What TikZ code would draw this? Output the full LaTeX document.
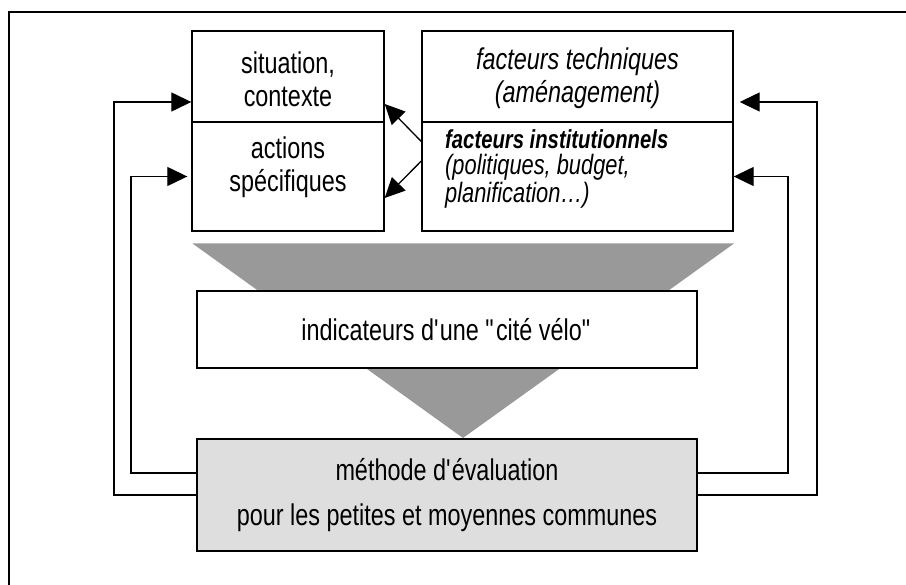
\documentclass[tikz,border=0pt]{standalone}
\usepackage{fontspec}
\setmainfont{Liberation Sans}[FakeStretch=0.78]
\usetikzlibrary{arrows.meta}

\begin{document}
\begin{tikzpicture}[x=1pt, y=-1pt]
	\tikzset{bx/.style={draw=black, line width=1.4pt, inner sep=0pt}};
	\tikzset{txt/.style={align=center, inner sep=0pt, font=\fontsize{30}{33}\selectfont}};
	\tikzset{arr/.style={draw=black, line width=1.3pt, -{Triangle[length=20pt, width=19pt]}}};

	\useasboundingbox (0,0) rectangle (906,585);
	\draw[line width=1.4pt] (9,585) |- (906,12);

	% funnel
	\fill[black!40] (192.5,243.5) -- (734,243.5) -- (463,438) -- cycle;

	\node[bx, minimum width=192, minimum height=91] (sitbox) at (288,76.5) {};
	\node[bx, minimum width=192, minimum height=109] (actbox) at (288,176.5) {};
	\node[bx, minimum width=311, minimum height=91] (techbox) at (577.5,76.5) {};
	\node[bx, minimum width=311, minimum height=109] (instbox) at (577.5,176.5) {};

	\node[txt] (sit) at (288,79) {situation,\\contexte};
	\node[txt] (act) at (288,167) {actions\\spécifiques};
	\node[txt, font=\fontsize{30}{33}\selectfont\itshape] (tech) at (577.5,78) {facteurs techniques\\(aménagement)};
	\node[txt, align=left, anchor=west, font=\fontsize{28}{26}\selectfont\itshape] (inst) at (445,169)
		{{\bfseries\fontsize{26}{26}\selectfont facteurs institutionnels}\\(politiques, budget,\\planification\dots)};

	\node[bx, txt, fill=white, minimum width=500, minimum height=77] (ind) at (447,329.5)
		{indicateurs d\textquotesingle une \textquotedbl cité vélo\textquotedbl};
	\node[bx, txt, fill=black!13, minimum width=500, minimum height=112] (meth) at (447,495)
		{méthode d\textquotesingle évaluation\\[12pt]pour les petites et moyennes communes};

	\coordinate (lo) at (114,102);
	\coordinate (li) at (131,176.5);
	\coordinate (ri) at (788,176.5);
	\coordinate (ro) at (817,102);

	\draw[arr] (meth.west) -| (lo) -- (lo -| sitbox.west);
	\draw[arr, shorten >=4pt] ([yshift=22]meth.west) -| (li) -- (actbox.west);
	\draw[arr, shorten >=6pt] (meth.east) -| (ro) -- (ro -| techbox.east);
	\draw[arr] ([yshift=22]meth.east) -| (ri) -- (instbox.east);

	\draw[arr] ([yshift=35]instbox.west) -- ([yshift=-27.5]sitbox.east);
	\draw[arr] ([yshift=15.5]instbox.west) -- ([yshift=-21.5]actbox.east);
\end{tikzpicture}
\end{document}
